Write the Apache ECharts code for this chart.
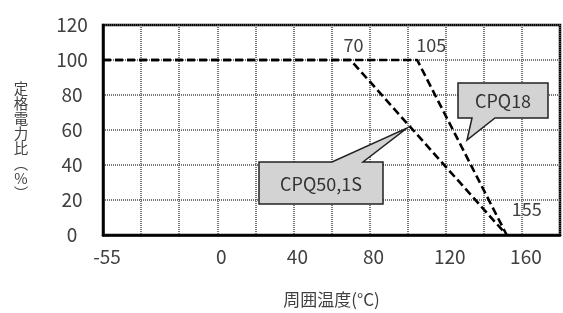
<!DOCTYPE html>
<html>
<head>
<meta charset="utf-8">
<script src="https://cdn.jsdelivr.net/npm/echarts@6/dist/echarts.min.js"></script>
<style>
  html, body { margin: 0; padding: 0; background: #fff; }
  #chart { width: 563px; height: 313px; }
</style>
</head>
<body>
<div id="chart"></div>
<script>
// axis ticks
const xTicks = [-60, 0, 40, 80, 120, 160]
const xTickLabels = ['-55', '0', '40', '80', '120', '160']

// derating curves (temperature, rated power %)
const cpq50 = [[-60, 100], [70, 100], [152, 0]]
const cpq18 = [[-60, 100], [105, 100], [152, 0]]

// notes at the knee / end points
const cpq50Notes = ['', '70', '155']
const cpq18Notes = ['', '105', '']

const yTitleChars = ['定', '格', '電', '力', '比', '︵', '%', '︶']

const font = "'Noto Sans CJK JP', 'Noto Sans', sans-serif"
const noteOffset = { '70': [3, -1], '105': [14, -1], '155': [12, 0] }

function withNotes(points, notes) {
    return points.map((p, i) => {
        const note = notes[i]
        if (!note) return { value: p }
        return {
            value: p,
            label: {
                show: true,
                formatter: note,
                position: note === '155' ? 'right' : 'top',
                offset: note === '155' ? [0, -26] : noteOffset[note],
                fontSize: 18,
                color: '#404040',
                fontFamily: font
            }
        }
    })
}

const dashed = { color: '#000', width: 2.6, type: [8, 4] }
const gridLine = { color: '#555', width: 1.6, type: [1, 1] }

// vertical y title, one glyph per row
const yTitle = yTitleChars.map((c, i) => ({
    type: 'text', x: 21, y: 88 + i * 15,
    style: { text: c, fontSize: 14.5, fill: '#404040', fontFamily: font, align: 'center', verticalAlign: 'middle' }
}))

const chart = echarts.init(document.getElementById('chart'))
chart.setOption({
    animation: false,
    grid: {
        left: 103, top: 25, width: 462, height: 220,
        show: true, borderColor: '#000', borderWidth: 2.5
    },
    xAxis: {
        type: 'value',
        min: -60, max: 180, interval: 20,
        name: '周囲温度(°C)',
        nameLocation: 'middle',
        nameGap: 56,
        nameTextStyle: { fontSize: 17, color: '#404040', fontFamily: font },
        axisLine: { show: true, onZero: false, lineStyle: { color: '#000', width: 2.5 } },
        axisTick: { show: false },
        axisLabel: {
            fontSize: 19, color: '#404040', fontFamily: font, margin: 12,
            padding: [0, 0, 0, 8],
            formatter: v => {
                const i = xTicks.indexOf(v)
                return i >= 0 ? xTickLabels[i] : ''
            }
        },
        splitLine: { show: true, lineStyle: gridLine }
    },
    yAxis: {
        type: 'value',
        min: 0, max: 120, interval: 20,
        axisLine: { show: true, onZero: false, lineStyle: { color: '#000', width: 2.5 } },
        axisTick: { show: false },
        axisLabel: { fontSize: 19, color: '#404040', fontFamily: font, margin: 31, align: 'center' },
        splitLine: { show: true, lineStyle: gridLine }
    },
    series: [
        {
            name: 'CPQ50,1S', type: 'line', symbol: 'circle', symbolSize: 0,
            lineStyle: dashed, z: 5,
            data: withNotes(cpq50, cpq50Notes)
        },
        {
            name: 'CPQ18', type: 'line', symbol: 'circle', symbolSize: 0,
            lineStyle: dashed, z: 5,
            data: withNotes(cpq18, cpq18Notes)
        }
    ],
    graphic: yTitle.concat([
        {
            type: 'polygon', z: 10,
            shape: { points: [[458, 83], [548, 83], [548, 118], [495, 118], [467, 140], [472, 118], [458, 118]] },
            style: { fill: '#d3d3d3', stroke: '#222', lineWidth: 1.5 }
        },
        {
            type: 'text', z: 11, x: 503, y: 101,
            style: { text: 'CPQ18', fontSize: 18, fill: '#333', fontFamily: font, align: 'center', verticalAlign: 'middle' }
        },
        {
            type: 'polygon', z: 10,
            shape: { points: [[259, 162], [332, 162], [407, 128], [363, 162], [383, 162], [383, 204], [259, 204]] },
            style: { fill: '#d3d3d3', stroke: '#222', lineWidth: 1.5 }
        },
        {
            type: 'text', z: 11, x: 321, y: 184,
            style: { text: 'CPQ50,1S', fontSize: 18, fill: '#333', fontFamily: font, align: 'center', verticalAlign: 'middle' }
        }
    ])
})
</script>
</body>
</html>
